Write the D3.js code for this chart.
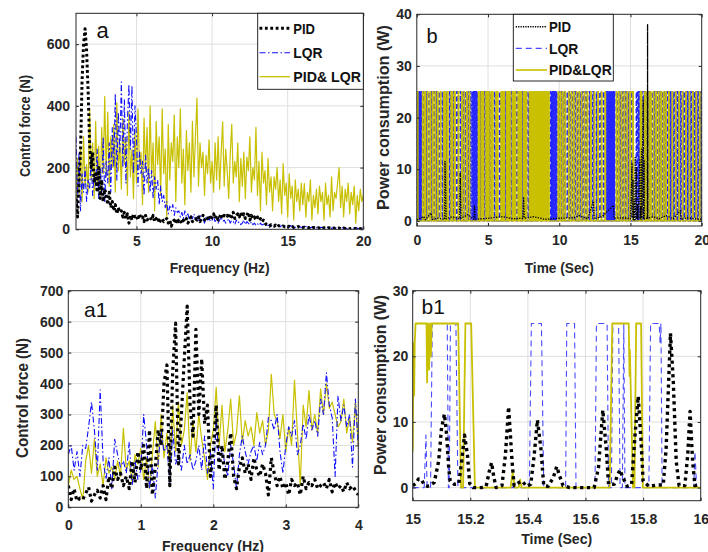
<!DOCTYPE html>
<html><head><meta charset="utf-8">
<script src="https://cdn.jsdelivr.net/npm/d3@7"></script>
<style>
html,body{margin:0;padding:0;background:#fff;}
svg{display:block;}
text{font-family:"Liberation Sans",Arial,Helvetica,sans-serif;}
</style></head><body>
<svg id="chart" width="708" height="552"></svg>
<script>
// ---------------- DATA ----------------
const legendA = ["PID", "LQR", "PID& LQR"];
const legendB = ["PID", "LQR", "PID&LQR"];

// Panel a: control force spectrum, 1..20 Hz, step 0.1 Hz
const freqA_start = 1, freqA_step = 0.1;
const forceA_PID = [
100,40,160,250,480,600,650,580,450,280,
200,250,150,180,120,200,100,160,90,130,
110,80,120,70,90,60,80,50,70,55,
60,40,55,35,50,20,45,30,50,40,
45,30,50,35,40,25,45,30,35,40,
30,45,25,35,40,20,30,35,25,30,
35,20,30,10,25,30,20,35,25,30,
20,30,25,35,20,30,40,25,30,35,
30,40,25,35,45,30,40,35,45,30,
40,50,35,45,30,40,50,35,45,40,
45,35,50,40,55,35,45,50,40,55,
40,50,35,45,55,30,45,35,40,30,
40,30,35,25,30,20,15,12,10,15,
12,10,14,8,12,10,9,11,8,10,
8,10,7,9,6,8,7,9,6,7,
6,7,5,6,5,7,4,6,5,4,
5,4,6,3,5,4,3,5,4,3,
4,3,5,3,4,2,3,4,3,2,
3,2,3,4,2,3,2,3,2,3,
2];
const forceA_LQR = [
300,80,250,60,180,120,200,90,160,130,
230,110,180,140,260,100,200,120,300,90,
220,150,280,120,330,200,440,160,380,250,
478,200,420,150,350,470,260,465,180,400,
300,140,250,180,220,110,240,150,200,120,
190,100,170,130,160,80,140,90,110,70,
90,50,75,60,80,45,70,55,60,40,
55,35,60,40,50,30,45,35,50,30,
40,25,45,30,35,20,40,30,35,25,
30,40,25,35,20,30,40,25,30,20,
25,35,20,30,25,15,30,20,25,15,
20,30,15,25,20,15,25,15,20,12,
18,12,20,14,16,10,18,12,15,10,
14,9,12,10,13,8,12,9,11,7,
10,7,12,8,9,6,10,7,8,6,
8,5,9,6,8,5,7,4,8,5,
6,4,7,5,6,3,7,4,5,3,
5,3,6,4,5,2,6,3,4,2,
5,3,4,2,5,3,4,2,3,4,
3];
const forceA_Hybrid = [
80,230,110,260,90,300,140,210,120,390,
160,280,100,350,150,270,110,330,180,430,
170,380,140,300,200,340,120,410,190,280,
130,360,210,300,110,380,170,260,100,320,
150,390,200,250,80,360,190,330,120,400,
170,280,60,350,210,300,110,390,180,260,
40,340,160,280,220,370,90,300,200,390,
150,260,80,320,190,280,120,350,170,300,
425,140,280,200,250,110,240,180,290,150,
220,120,280,160,300,130,250,348,140,260,
190,100,245,340,150,220,170,280,90,230,
140,250,100,234,190,300,120,200,160,330,
110,220,60,250,150,190,80,230,120,170,
60,170,130,200,90,160,50,213,110,150,
40,180,100,140,30,160,90,130,60,150,
80,148,40,120,90,160,30,110,70,130,
50,140,90,120,30,150,80,110,40,170,
60,120,100,150,200,70,140,40,130,90,
150,50,120,80,140,20,110,60,130,90,
110];

// Panel a1: control force spectrum, 0..4 Hz, step 0.04 Hz
const freqA1_start = 0, freqA1_step = 0.04;
const forceA1_PID = [
70,25,60,20,30,25,45,65,20,40,
55,30,70,25,100,60,130,90,110,70,
100,60,150,80,180,120,200,60,250,40,
130,250,200,400,460,70,440,595,140,300,
480,650,330,230,575,300,480,270,330,100,
180,330,120,200,90,150,240,100,60,130,
160,110,140,90,160,120,100,140,110,40,
160,110,70,100,60,80,40,90,70,80,
40,100,60,80,70,90,60,70,80,60,
90,50,80,60,70,50,80,60,70,55,
40];
const forceA1_LQR = [
170,200,120,180,100,200,190,260,340,250,
120,380,150,90,160,60,220,170,130,150,
110,210,70,150,90,120,300,200,60,140,
30,150,250,180,200,80,250,140,170,120,
200,140,170,120,150,200,120,230,110,180,
60,290,150,190,140,100,200,140,60,170,
230,180,140,180,200,150,210,170,200,290,
280,250,300,180,110,200,260,230,280,170,
200,270,220,300,250,280,230,350,300,435,
330,290,100,360,280,330,260,300,130,350,
200];
const forceA1_Hybrid = [
70,120,90,100,60,25,150,200,110,220,
100,140,70,160,110,130,90,150,100,255,
120,150,80,170,140,190,90,160,60,170,
277,130,300,160,240,120,330,180,340,200,
250,370,150,280,180,300,220,160,90,200,
250,388,200,330,180,250,350,200,240,360,
210,280,230,260,200,306,240,280,200,250,
430,300,280,222,300,180,260,200,411,240,
72,330,260,378,250,300,240,382,300,400,
320,340,300,260,276,350,240,290,211,339,
200];

// Panel b: power consumption 0..20 s; saturated pulses [start, end] at the 25 W limit
const powerLimit = 25;
const powerB_LQR_pulses = [
[0.02,0.06],[0.09,0.13],[0.16,0.20],[0.23,0.27],[0.30,0.34],
[0.48,0.53],[0.66,0.71],[0.85,0.90],[1.02,1.07],[1.20,1.25],[1.35,1.39],
[1.55,1.60],[1.78,1.83],[2.05,2.10],[2.30,2.35],[2.55,2.60],[2.80,2.85],
[3.05,3.10],[3.22,3.27],[3.40,3.45],[3.58,3.63],[3.75,3.80],
[3.88,3.92],[3.95,3.99],[4.02,4.06],[4.09,4.13],[4.16,4.20],[4.23,4.27],
[4.45,4.50],[4.75,4.80],[5.10,5.15],[5.45,5.50],[5.80,5.85],[6.20,6.25],[6.60,6.65],
[7.00,7.05],[7.40,7.45],[7.80,7.85],[8.25,8.30],[8.70,8.75],[9.10,9.15],
[9.38,9.42],[9.45,9.49],[9.52,9.56],[9.59,9.63],[9.66,9.70],[9.73,9.77],[9.80,9.84],
[9.95,10.00],[10.12,10.17],[10.30,10.35],
[10.55,10.62],[10.72,10.79],[10.90,10.97],[11.08,11.15],[11.26,11.33],[11.45,11.52],[11.62,11.68],
[11.85,11.90],[12.10,12.15],[12.35,12.40],[12.60,12.65],[12.85,12.90],[13.10,13.15],
[13.30,13.34],[13.37,13.41],[13.44,13.48],[13.51,13.55],[13.58,13.62],[13.65,13.69],[13.72,13.76],[13.79,13.83],[13.86,13.90],
[14.05,14.10],[14.25,14.30],[14.45,14.50],[14.65,14.70],[14.85,14.90],[15.06,15.12],
[15.41,15.45],[15.53,15.57],[15.63,15.68],[15.70,15.72],[15.82,15.86],[15.95,16.00],[16.08,16.12],[16.22,16.26],[16.33,16.37],
[16.50,16.55],[16.68,16.73],[16.86,16.91],[17.04,17.09],[17.22,17.27],[17.40,17.45],
[17.55,17.60],[17.67,17.72],[17.79,17.84],[17.91,17.96],[18.03,18.08],[18.15,18.20],[18.27,18.32],[18.39,18.44],
[18.51,18.56],[18.63,18.68],[18.75,18.80],[18.87,18.92],[18.99,19.04],[19.11,19.16],[19.23,19.28],[19.35,19.40],
[19.47,19.52],[19.59,19.64],[19.71,19.76],[19.83,19.88],[19.93,19.98]
];
const powerB_Hybrid_pulses = [
[0.05,0.08],
[0.40,0.44],[0.55,0.60],[0.73,0.78],[0.92,0.97],[1.10,1.15],[1.28,1.32],
[1.45,1.50],[1.65,1.70],[1.88,1.93],[2.00,2.04],[2.15,2.20],[2.40,2.45],[2.48,2.52],[2.65,2.70],[2.90,2.95],
[3.15,3.19],[3.32,3.36],[3.50,3.54],[3.68,3.72],
[4.32,4.36],[4.40,4.44],[4.55,4.60],[4.65,4.70],[4.85,4.90],[4.95,5.00],
[5.05,5.08],[5.20,5.25],[5.32,5.36],[5.55,5.60],[5.65,5.70],[5.90,5.95],[6.00,6.05],[6.12,6.16],
[6.30,6.35],[6.42,6.46],[6.52,6.56],[6.70,6.75],[6.80,6.84],[6.90,6.95],[7.10,7.15],[7.20,7.24],
[7.30,7.35],[7.48,7.52],[7.58,7.62],[7.68,7.72],[7.90,7.95],
[8.00,8.03],[8.08,8.11],[8.16,8.19],[8.24,8.27],[8.34,8.37],[8.42,8.45],[8.50,8.53],[8.58,8.61],
[8.66,8.69],[8.76,8.79],[8.84,8.87],[8.92,8.95],[9.00,9.03],[9.08,9.11],[9.18,9.21],[9.26,9.29],
[9.92,9.94],[10.05,10.10],[10.22,10.27],[10.40,10.45],
[10.65,10.69],[10.83,10.87],[11.00,11.04],[11.20,11.23],[11.38,11.42],[11.56,11.59],
[11.75,11.80],[11.95,12.00],[12.20,12.25],[12.45,12.50],[12.70,12.75],[12.95,13.00],[13.20,13.25],
[14.00,14.03],[14.15,14.20],[14.35,14.40],[14.55,14.60],[14.75,14.80],[14.95,15.00],[15.01,15.16],[15.18,15.21],
[15.69,15.75],[15.77,15.80],[16.00,16.04],[16.15,16.18],[16.30,16.32],
[16.42,16.46],[16.60,16.64],[16.78,16.82],[16.95,17.00],[17.13,17.18],[17.31,17.36],[17.48,17.52],
[17.68,17.72],[17.92,17.96],[18.16,18.20],[18.40,18.44],[18.64,18.68],[18.88,18.92],[19.12,19.16],[19.36,19.40],[19.60,19.64],[19.84,19.88]
];
// PID power [time s, W]
const powerB_PID = [
[0,0.2],[0.5,0.8],[0.6,0.2],[1.0,1.5],[1.1,0.3],[1.5,0.5],[1.95,0.3],[1.98,11.5],[2.02,6],[2.05,0.4],
[2.5,0.8],[3.0,0.4],[3.05,9.2],[3.1,0.5],[3.6,1.2],[4.0,0.3],[4.05,3],[4.1,0.3],[5.0,0.5],[6.0,0.8],
[6.8,0.4],[7.45,0.5],[7.5,4.6],[7.55,0.5],[8.2,0.8],[9.0,0.3],[10.0,0.5],[11.0,0.6],[11.4,1.0],[12.0,0.4],
[12.4,3.8],[12.45,0.4],[13.0,0.8],[13.8,3],[13.85,0.5],[14.5,0.6],[15.0,0.4],[15.11,11.2],[15.13,0.8],[15.18,8],
[15.2,0.2],[15.27,3.8],[15.29,0.2],[15.33,12.3],[15.35,0.3],[15.43,10.3],[15.45,0.3],[15.5,3.2],[15.52,0.3],[15.66,11.8],
[15.68,0.4],[15.72,2.7],[15.74,0.3],[15.78,13.9],[15.8,0.5],[15.9,23.5],[15.92,0.3],[15.96,11.6],[15.98,0.4],[16.1,0.5],
[16.19,0.5],[16.2,38],[16.21,0.5],[16.6,0.8],[17.0,0.4],[17.5,1],[18.0,0.4],[18.5,2],[18.55,0.3],[19.0,0.6],
[19.5,0.4],[20,0.3]
];

// Panel b1: power consumption 15..16 s  [time s, W]
const powerB1_PID = [
[15.000,0.3],[15.010,0.6],[15.020,1.3],[15.030,1.3],[15.040,0.4],[15.050,0.2],[15.060,0.3],[15.075,0.8],[15.090,4],[15.100,9],
[15.110,11.2],[15.118,8],[15.125,3],[15.130,1],[15.145,0.5],[15.160,0.6],[15.170,4],[15.180,8],[15.190,5],[15.198,0.6],
[15.210,0],[15.240,0],[15.255,0.2],[15.266,2.5],[15.274,3.8],[15.282,1.5],[15.290,0],[15.310,0.3],[15.322,5],[15.333,12.3],
[15.345,4],[15.352,0.3],[15.370,0.8],[15.380,1.0],[15.395,0.2],[15.410,0.5],[15.422,5],[15.433,10.3],[15.445,6],[15.455,0.3],
[15.470,0.2],[15.488,1.5],[15.500,3.2],[15.510,1.8],[15.522,0.3],[15.545,0],[15.600,0],[15.630,0],[15.645,3],[15.660,11.8],
[15.672,6],[15.680,0.5],[15.700,0.5],[15.712,2],[15.720,2.7],[15.730,1.5],[15.745,0.2],[15.760,0.5],[15.772,8],[15.783,13.9],
[15.793,7],[15.800,1],[15.820,0.2],[15.850,0.4],[15.870,0.4],[15.880,6],[15.895,23.5],[15.905,16],[15.915,4],[15.925,0.3],
[15.945,0.3],[15.955,5],[15.963,11.6],[15.972,4],[15.980,0.3],[16.000,0.5]
];
const powerB1_LQR = [
[15.000,0],[15.040,0],[15.046,8],[15.050,0],[15.062,0],[15.068,25],[15.120,25],[15.124,0],[15.127,0],[15.131,25],
[15.150,25],[15.157,0],[15.405,0],[15.412,25],[15.447,25],[15.455,0],[15.531,0],[15.535,25],[15.562,25],[15.567,0],
[15.633,0],[15.638,25],[15.675,25],[15.680,0],[15.690,0],[15.695,25],[15.715,25],[15.720,0],[15.728,0],[15.733,25],
[15.737,0],[15.820,0],[15.826,25],[15.856,25],[15.859,22],[15.862,25],[15.866,0],[15.976,0],[15.980,5.5],[15.986,0],
[16.000,0]
];
const powerB1_Hybrid = [
[15.000,5.5],[15.003,22],[15.005,14],[15.007,22],[15.010,25],[15.048,25],[15.050,16],[15.053,25],[15.057,18],[15.060,25],
[15.063,20],[15.066,25],[15.158,25],[15.168,0],[15.175,0],[15.183,25],[15.203,25],[15.216,0],[15.340,0],[15.347,2.3],
[15.355,0],[15.368,0],[15.373,1.2],[15.378,0],[15.684,0],[15.693,25],[15.750,25],[15.753,17],[15.754,21],[15.765,0],
[15.770,0],[15.776,25],[15.793,25],[15.799,0],[16.000,0]
];

// Tick values
const ticksA_x = [5,10,15,20], ticksA_y = [0,200,400,600];
const ticksB_x = [0,5,10,15,20], ticksB_y = [0,10,20,30,40];
const ticksA1_x = [0,1,2,3,4], ticksA1_y = [0,100,200,300,400,500,600,700];
const ticksB1_x = [15,15.2,15.4,15.6,15.8,16], ticksB1_y = [0,10,20,30];

// ---------------- HELPERS ----------------
const uniform = (start, step, vals) => vals.map((v, i) => [start + i * step, v]);
const pulses = (list, level, t0, t1) => {
  const pts = [[t0, 0]];
  list.forEach(([s, e]) => { pts.push([s, 0], [s, level], [e, level], [e, 0]); });
  pts.push([t1, 0]);
  return pts;
};

const C = { yellow: "#c8c000", blue: "#1010ff", blueB: "#2424ff", blueB1: "#4a4aff", black: "#000", axis: "#262626", grid: "#dfdfdf" };
const svg = d3.select("#chart");

function drawPanel(p) {
  const g = svg.append("g");
  const x = d3.scaleLinear().domain(p.xDomain).range([p.left, p.right]);
  const y = d3.scaleLinear().domain(p.yDomain).range([p.bottom, p.top]);
  g.append("g").selectAll("line").data(p.xTicks.filter(v => v > p.xDomain[0] && v < p.xDomain[1])).join("line")
    .attr("x1", d => x(d)).attr("x2", d => x(d)).attr("y1", p.top).attr("y2", p.bottom)
    .attr("stroke", C.grid).attr("stroke-width", 1);
  g.append("g").selectAll("line").data(p.yTicks.filter(v => v > p.yDomain[0] && v < p.yDomain[1])).join("line")
    .attr("y1", d => y(d)).attr("y2", d => y(d)).attr("x1", p.left).attr("x2", p.right)
    .attr("stroke", C.grid).attr("stroke-width", 1);
  const cid = "clip-" + p.name;
  svg.append("clipPath").attr("id", cid).append("rect")
    .attr("x", p.left).attr("y", p.top).attr("width", p.right - p.left).attr("height", p.bottom - p.top);
  const plot = g.append("g").attr("clip-path", `url(#${cid})`);
  const line = d3.line().x(d => x(d[0])).y(d => y(d[1]));
  p.series.forEach(s => {
    plot.append("path").datum(s.data).attr("d", line).attr("fill", "none")
      .attr("stroke", s.color).attr("stroke-width", s.width)
      .attr("stroke-dasharray", s.dash || null).attr("stroke-linejoin", "round");
  });
  const fmt = d => String(d);
  const ax = g.append("g").attr("transform", `translate(0,${p.bottom})`)
    .call(d3.axisBottom(x).tickValues(p.xTicks).tickSizeInner(-3).tickSizeOuter(0).tickPadding(p.xPad).tickFormat(fmt));
  const ay = g.append("g").attr("transform", `translate(${p.left},0)`)
    .call(d3.axisLeft(y).tickValues(p.yTicks).tickSizeInner(-3).tickSizeOuter(0).tickPadding(p.yPad).tickFormat(fmt));
  const at = g.append("g").attr("transform", `translate(0,${p.top})`)
    .call(d3.axisTop(x).tickValues(p.xTicks).tickSizeInner(-3).tickSizeOuter(0).tickFormat(""));
  const ar = g.append("g").attr("transform", `translate(${p.right},0)`)
    .call(d3.axisRight(y).tickValues(p.yTicks).tickSizeInner(-3).tickSizeOuter(0).tickFormat(""));
  [ax, ay, at, ar].forEach(a => {
    a.select(".domain").remove();
    a.selectAll(".tick line").attr("stroke", C.axis);
    a.selectAll("text").attr("font-size", p.tickFont).attr("font-weight", "bold").attr("fill", "#262626")
      .attr("font-family", '"Liberation Sans",Arial,sans-serif');
  });
  g.append("rect").attr("x", p.left).attr("y", p.top).attr("width", p.right - p.left).attr("height", p.bottom - p.top)
    .attr("fill", "none").attr("stroke", C.axis).attr("stroke-width", 1);
  g.append("text").attr("x", (p.left + p.right) / 2 + (p.xlOff || 0)).attr("y", p.xlY).attr("text-anchor", "middle")
    .attr("font-size", p.xlFont).attr("font-weight", "bold").attr("fill", "#262626")
    .attr("textLength", p.xlLen).attr("lengthAdjust", "spacingAndGlyphs").text(p.xLabel);
  g.append("text").attr("transform", `translate(${p.ylX},${p.ylCY}) rotate(-90)`).attr("text-anchor", "middle")
    .attr("font-size", p.ylFont).attr("font-weight", "bold").attr("fill", "#262626")
    .attr("textLength", p.ylLen).attr("lengthAdjust", "spacingAndGlyphs").text(p.yLabel);
  g.append("text").attr("x", p.tagX).attr("y", p.tagY).attr("font-size", p.tagFont).attr("fill", "#111").text(p.tag);
  return { g, x, y };
}

// ---------------- PANELS ----------------
const dataA = [
  { data: uniform(freqA_start, freqA_step, forceA_Hybrid), color: C.yellow, width: 1.2 },
  { data: uniform(freqA_start, freqA_step, forceA_LQR), color: C.blue, width: 1.1, dash: "6,2.5,1.5,2.5" },
  { data: uniform(freqA_start, freqA_step, forceA_PID), color: C.black, width: 3, dash: "2.8,2.6" }
];
drawPanel({
  name: "a", left: 76, right: 363.3, top: 13.3, bottom: 229.3,
  xDomain: [1, 20], yDomain: [0, 700], xTicks: ticksA_x, yTicks: ticksA_y,
  xPad: 7, yPad: 6, tickFont: 14, series: dataA,
  xLabel: "Frequency (Hz)", xlY: 273, xlFont: 15, xlLen: 100,
  yLabel: "Control force (N)", ylX: 30, ylCY: 126, ylFont: 14.5, ylLen: 102,
  tag: "a", tagX: 96.5, tagY: 37.5, tagFont: 22
});

const dataA1 = [
  { data: uniform(freqA1_start, freqA1_step, forceA1_Hybrid), color: C.yellow, width: 1.2 },
  { data: uniform(freqA1_start, freqA1_step, forceA1_LQR), color: C.blue, width: 1.1, dash: "6,2.5,1.5,2.5" },
  { data: uniform(freqA1_start, freqA1_step, forceA1_PID), color: C.black, width: 3.2, dash: "3,3.6" }
];
drawPanel({
  name: "a1", left: 68.3, right: 358.3, top: 290.7, bottom: 507.3,
  xDomain: [0, 4], yDomain: [0, 700], xTicks: ticksA1_x, yTicks: ticksA1_y,
  xPad: 13.2, yPad: 5, tickFont: 14, series: dataA1,
  xLabel: "Frequency (Hz)", xlY: 550.5, xlFont: 15, xlLen: 102, xlOff: -0.3,
  yLabel: "Control force (N)", ylX: 27.5, ylCY: 398, ylFont: 16, ylLen: 120,
  tag: "a1", tagX: 84, tagY: 316.5, tagFont: 21
});

const dataB = [
  { data: pulses(powerB_LQR_pulses, powerLimit, 0, 20), color: C.blueB, width: 1.5, dash: "5,2.5" },
  { data: pulses(powerB_Hybrid_pulses, powerLimit, 0, 20), color: C.yellow, width: 1.3 },
  { data: powerB_PID, color: C.black, width: 1.3, dash: "1.3,1.3" }
];
drawPanel({
  name: "b", left: 416.8, right: 701.7, top: 14.3, bottom: 226,
  xDomain: [0, 20], yDomain: [-1, 40], xTicks: ticksB_x, yTicks: ticksB_y,
  xPad: 9.5, yPad: 5, tickFont: 14, series: dataB,
  xLabel: "Time (Sec)", xlY: 273, xlFont: 15, xlLen: 69, xlOff: 0,
  yLabel: "Power consumption (W)", ylX: 388.5, ylCY: 117.5, ylFont: 16.5, ylLen: 185,
  tag: "b", tagX: 426.5, tagY: 43, tagFont: 20
});

const dataB1 = [
  { data: powerB1_LQR, color: C.blueB1, width: 1.1, dash: "6,4" },
  { data: powerB1_Hybrid, color: C.yellow, width: 1.8 },
  { data: powerB1_PID, color: C.black, width: 3.4, dash: "3.2,3.6" }
];
drawPanel({
  name: "b1", left: 412.7, right: 700.7, top: 290.7, bottom: 500.7,
  xDomain: [15, 16], yDomain: [-2, 30], xTicks: ticksB1_x, yTicks: ticksB1_y,
  xPad: 13.2, yPad: 4.4, tickFont: 14, series: dataB1,
  xLabel: "Time (Sec)", xlY: 543.5, xlFont: 15, xlLen: 71, xlOff: 0,
  yLabel: "Power consumption (W)", ylX: 385.5, ylCY: 385, ylFont: 16, ylLen: 180,
  tag: "b1", tagX: 421.5, tagY: 314, tagFont: 21
});

// ---------------- LEGENDS ----------------
function legend(box, names, styles, sampleX0, sampleX1, textX, rowsY, texts) {
  const g = svg.append("g");
  g.append("rect").attr("x", box.x).attr("y", box.y).attr("width", box.w).attr("height", box.h)
    .attr("fill", "#fff").attr("stroke", "#111").attr("stroke-width", 0.9);
  names.forEach((n, i) => {
    const s = styles[i];
    g.append("line").attr("x1", sampleX0).attr("x2", sampleX1).attr("y1", rowsY[i]).attr("y2", rowsY[i])
      .attr("stroke", s.color).attr("stroke-width", s.width).attr("stroke-dasharray", s.dash || null);
    g.append("text").attr("x", textX).attr("y", rowsY[i]).attr("dy", "0.36em")
      .attr("font-size", 15).attr("font-weight", "bold").attr("fill", "#111")
      .attr("textLength", texts[i]).attr("lengthAdjust", "spacingAndGlyphs").text(n);
  });
}
legend({ x: 257.7, y: 13.3, w: 105.6, h: 76 }, legendA,
  [{ color: C.black, width: 3, dash: "2.8,2.6" }, { color: C.blue, width: 1.1, dash: "6,2.5,1.5,2.5" }, { color: C.yellow, width: 1.3 }],
  259.5, 290, 293.3, [28.3, 52.7, 76.7], [21.7, 29.3, 67.7]);
legend({ x: 513.3, y: 14.3, w: 100, h: 66.7 }, legendB,
  [{ color: C.black, width: 1.4, dash: "1.3,1.1" }, { color: C.blueB1, width: 1.2, dash: "6,4" }, { color: C.yellow, width: 1.6 }],
  515.7, 547, 549, [26.7, 48.3, 70], [22, 29.3, 62.7]);
</script>
</body></html>
